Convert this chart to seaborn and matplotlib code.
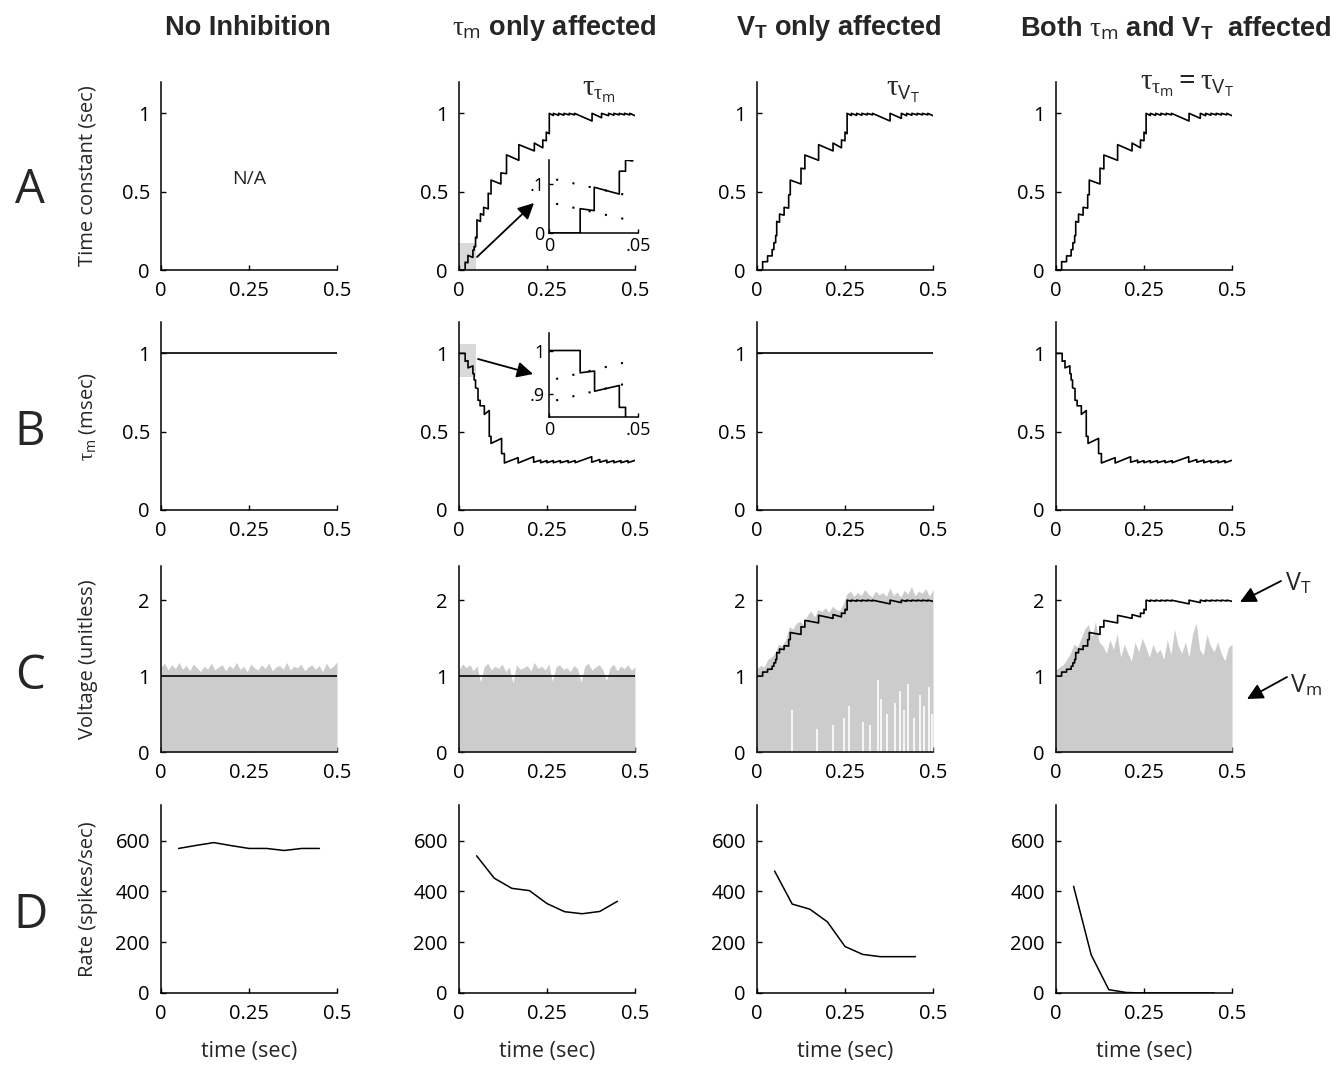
import numpy as np
import matplotlib
matplotlib.use("Agg")
import matplotlib.pyplot as plt
import seaborn as sns
import pandas as pd

# ------------------------------------------------------------------ data
# Row A, column 2: time constant of tau_m (jump times, value before / after jump)
ttm_t = [0.0175, 0.0254, 0.0395, 0.043, 0.047, 0.051, 0.061, 0.070, 0.083, 0.091,
         0.119, 0.135, 0.170, 0.214, 0.238, 0.248, 0.2565, 0.268, 0.283, 0.298,
         0.313, 0.328, 0.378, 0.405, 0.425, 0.44, 0.455, 0.47, 0.485]
ttm_before = [0.0, 0.046, 0.08, 0.127, 0.148, 0.205, 0.31, 0.35, 0.39, 0.485,
              0.549, 0.615, 0.70, 0.76, 0.78, 0.825, 0.87, 0.986, 0.987, 0.988,
              0.99, 0.99, 0.951, 0.972, 0.985, 0.988, 0.99, 0.99, 0.99]
ttm_after = [0.05, 0.094, 0.127, 0.15, 0.21, 0.32, 0.36, 0.40, 0.49, 0.574,
             0.62, 0.735, 0.80, 0.81, 0.83, 0.88, 1.0, 1.0, 1.0, 1.0,
             1.0, 1.0, 1.0, 1.0, 1.0, 1.0, 1.0, 1.0, 1.0]
ttm_end = 0.985

# Row A, columns 3-4: time constant of V_T
tvt_t = [0.016, 0.030, 0.043, 0.048, 0.053, 0.056, 0.064, 0.077, 0.090, 0.0945,
         0.125, 0.136, 0.175, 0.216, 0.240, 0.250, 0.256, 0.268, 0.283, 0.298,
         0.313, 0.328, 0.378, 0.41, 0.425, 0.44, 0.455, 0.47, 0.485]
tvt_before = [0.0, 0.053, 0.09, 0.13, 0.174, 0.22, 0.305, 0.35, 0.395, 0.48,
              0.549, 0.645, 0.70, 0.76, 0.78, 0.825, 0.87, 0.986, 0.987, 0.988,
              0.99, 0.99, 0.951, 0.968, 0.985, 0.988, 0.99, 0.99, 0.99]
tvt_after = [0.053, 0.09, 0.13, 0.174, 0.22, 0.31, 0.357, 0.40, 0.48, 0.574,
             0.65, 0.734, 0.80, 0.81, 0.83, 0.88, 1.0, 1.0, 1.0, 1.0,
             1.0, 1.0, 1.0, 1.0, 1.0, 1.0, 1.0, 1.0, 1.0]
tvt_end = 0.985

# Row B, columns 2 and 4: tau_m (msec)
tm_t = [0.0175, 0.0256, 0.0395, 0.043, 0.047, 0.054, 0.060, 0.072, 0.086, 0.091,
        0.121, 0.129, 0.168, 0.212, 0.232, 0.25, 0.268, 0.288, 0.31, 0.33,
        0.377, 0.40, 0.42, 0.44, 0.46, 0.48]
tm_before = [1.0, 0.953, 0.92, 0.87, 0.83, 0.775, 0.70, 0.665, 0.635, 0.47,
             0.457, 0.36, 0.334, 0.34, 0.318, 0.315, 0.315, 0.315, 0.315, 0.315,
             0.34, 0.322, 0.318, 0.315, 0.315, 0.315]
tm_after = [0.949, 0.907, 0.87, 0.83, 0.78, 0.70, 0.665, 0.61, 0.47, 0.425,
            0.36, 0.30, 0.30, 0.305, 0.302, 0.302, 0.302, 0.302, 0.302, 0.302,
            0.305, 0.305, 0.302, 0.302, 0.302, 0.302]
tm_end = 0.317

# Row C, columns 3-4: threshold V_T
vt_before = [1.0, 1.053, 1.09, 1.13, 1.174, 1.22, 1.305, 1.35, 1.395, 1.48,
             1.549, 1.645, 1.70, 1.76, 1.78, 1.825, 1.87, 1.986, 1.987, 1.988,
             1.99, 1.99, 1.951, 1.968, 1.985, 1.988, 1.99, 1.99, 1.99]
vt_after = [1.053, 1.09, 1.13, 1.174, 1.22, 1.31, 1.357, 1.40, 1.48, 1.574,
            1.65, 1.734, 1.80, 1.81, 1.83, 1.88, 2.0, 2.0, 2.0, 2.0,
            2.0, 2.0, 2.0, 2.0, 2.0, 2.0, 2.0, 2.0, 2.0]
vt_end = 1.985

# Row C: upper envelope of the membrane voltage V_m (grey)
vm_env_col1 = [1.12, 1.17, 1.08, 1.15, 1.10, 1.18, 1.09, 1.14, 1.07, 1.16,
               1.11, 1.06, 1.13, 1.09, 1.17, 1.08, 1.12, 1.15, 1.07, 1.14,
               1.10, 1.18, 1.09, 1.13, 1.06, 1.16, 1.11, 1.08, 1.15, 1.10,
               1.17, 1.07, 1.12, 1.14, 1.09, 1.18, 1.08, 1.13, 1.11, 1.16,
               1.07, 1.12, 1.15, 1.09, 1.14, 1.06, 1.17, 1.10, 1.13, 1.19]
vm_env_col2 = [1.09, 1.16, 1.11, 1.15, 1.07, 1.14, 0.92, 1.12, 1.17, 1.08,
               1.13, 1.10, 1.16, 1.06, 1.12, 0.91, 1.15, 1.09, 1.11, 1.14,
               1.07, 1.18, 1.10, 1.13, 1.08, 1.16, 0.93, 1.12, 1.15, 1.09,
               1.11, 1.06, 1.14, 1.10, 0.92, 1.13, 1.17, 1.08, 1.12, 1.15,
               1.09, 0.94, 1.11, 1.16, 1.07, 1.13, 1.10, 1.15, 1.08, 1.12]
vm_env_col3 = [1.10, 1.14, 1.12, 1.22, 1.25, 1.30, 1.42, 1.40, 1.48, 1.65,
               1.62, 1.70, 1.72, 1.68, 1.80, 1.86, 1.78, 1.88, 1.85, 1.90,
               1.84, 1.92, 1.88, 1.86, 1.95, 2.08, 2.12, 2.05, 2.10, 2.06,
               2.14, 2.08, 2.04, 2.12, 2.07, 2.10, 2.05, 2.16, 2.06, 2.11,
               2.04, 2.13, 2.08, 2.18, 2.06, 2.12, 2.09, 2.15, 2.05, 2.14]
vm_env_col4 = [1.08, 1.12, 1.15, 1.22, 1.30, 1.42, 1.38, 1.50, 1.62, 1.68,
               1.52, 1.72, 1.45, 1.40, 1.30, 1.48, 1.35, 1.56, 1.25, 1.42,
               1.30, 1.20, 1.45, 1.32, 1.50, 1.38, 1.25, 1.42, 1.30, 1.35,
               1.22, 1.48, 1.28, 1.62, 1.40, 1.30, 1.45, 1.25, 1.55, 1.70,
               1.35, 1.28, 1.55, 1.40, 1.32, 1.45, 1.30, 1.20, 1.38, 1.42]
# Row C, column 3: moments where V_m did not reset (white gaps from 0 up)
gap_t = [0.100, 0.170, 0.215, 0.248, 0.262, 0.300, 0.322, 0.345, 0.352, 0.368,
         0.392, 0.405, 0.418, 0.430, 0.447, 0.462, 0.475, 0.488, 0.497]
gap_h = [0.55, 0.30, 0.35, 0.45, 0.60, 0.40, 0.35, 0.95, 0.70, 0.50,
         0.65, 0.80, 0.55, 0.90, 0.45, 0.75, 0.60, 0.85, 0.50]

# Row D: firing rate (spikes/sec)
rate_t = [0.05, 0.10, 0.15, 0.20, 0.25, 0.30, 0.35, 0.40, 0.45]
rate_col1 = [569, 581, 592, 580, 569, 569, 561, 569, 569]
rate_col2 = [540, 452, 412, 403, 352, 320, 312, 321, 361]
rate_col3 = [480, 350, 330, 280, 183, 152, 143, 143, 143]
rate_col4 = [420, 150, 13, 2, 0, 0, 0, 0, 0]

col_titles = ["No Inhibition", r"$\tau_\mathrm{m}$ only affected",
              r"$\mathbf{V}_\mathbf{T}$ only affected",
              r"Both $\tau_\mathrm{m}$ and $\mathbf{V}_\mathbf{T}$  affected"]
row_letters = ["A", "B", "C", "D"]
row_ylabels = ["Time constant (sec)", r"$\tau_\mathrm{m}$ (msec)",
               "Voltage (unitless)", "Rate (spikes/sec)"]

# ------------------------------------------------------------------ style
sns.set_style("ticks")
plt.rcParams["font.family"] = ["Open Sans", "DejaVu Sans"]
plt.rcParams["mathtext.fontset"] = "custom"
plt.rcParams["mathtext.rm"] = "Open Sans"
plt.rcParams["mathtext.it"] = "Liberation Serif"
plt.rcParams["mathtext.bf"] = "Liberation Sans:bold"
plt.rcParams["axes.linewidth"] = 1.1
plt.rcParams["axes.edgecolor"] = "black"

W, H = 1344, 1068
fig = plt.figure(figsize=(W / 100, H / 100), dpi=100)

col_left = [161, 459, 757, 1056]
col_w = 176
rows_px = [(82, 270), (322, 510), (566, 752), (805, 993)]
GRAY = "#cccccc"
TICK_FS = 14.5


def px_axes(x0, ytop, w, ybot):
    return fig.add_axes([x0 / W, 1 - ybot / H, w / W, (ybot - ytop) / H])


def step_trace(start, ts, before, after, end):
    xs, ys = [0.0], [start]
    for t, b, a in zip(ts, before, after):
        xs += [t, t]
        ys += [b, a]
    xs.append(0.5)
    ys.append(end)
    return pd.DataFrame({"t": xs, "v": ys})


def kline(ax, df, lw=1.2, **kw):
    sns.lineplot(data=df, x="t", y="v", estimator=None, sort=False,
                 color="black", lw=lw, ax=ax, **kw)


def style_axes(ax, yticks, ylabels, ylim, fs=TICK_FS):
    ax.set_xlim(0, 0.5)
    ax.set_ylim(*ylim)
    ax.set_xticks([0, 0.25, 0.5])
    ax.set_xticklabels(["0", "0.25", "0.5"])
    ax.set_yticks(yticks)
    ax.set_yticklabels(ylabels)
    ax.tick_params(direction="in", length=3.5, width=1, pad=8, labelsize=fs,
                   colors="black")
    for s in ["top", "right"]:
        ax.spines[s].set_visible(False)


df_ttm = step_trace(0.0, ttm_t, ttm_before, ttm_after, ttm_end)
df_tvt = step_trace(0.0, tvt_t, tvt_before, tvt_after, tvt_end)
df_tm = step_trace(1.0, tm_t, tm_before, tm_after, tm_end)
df_vt = step_trace(1.0, tvt_t, vt_before, vt_after, vt_end)
df_flat = pd.DataFrame({"t": [0.0, 0.5], "v": [1.0, 1.0]})
env_t = np.linspace(0.0, 0.5, len(vm_env_col1))

axes = [[None] * 4 for _ in range(4)]
for r, (yt, yb) in enumerate(rows_px):
    for c in range(4):
        axes[r][c] = px_axes(col_left[c], yt, col_w, yb)

# ---- Row A
axes[0][0].text(0.25, 0.58, "N/A", ha="center", va="center", fontsize=14)
ax = axes[0][1]
ax.add_patch(plt.Rectangle((0, 0), 0.049, 0.175, color="#d9d9d9", lw=0, zorder=0))
kline(ax, df_ttm)
kline(axes[0][2], df_tvt)
kline(axes[0][3], df_tvt)
for c in range(4):
    style_axes(axes[0][c], [0, 0.5, 1], ["0", "0.5", "1"], (0, 1.2))

# ---- Row B
kline(axes[1][0], df_flat)
ax = axes[1][1]
ax.add_patch(plt.Rectangle((0, 0.851), 0.048, 0.206, color="#d9d9d9", lw=0, zorder=0))
kline(ax, df_tm)
kline(axes[1][2], df_flat)
kline(axes[1][3], df_tm)
for c in range(4):
    style_axes(axes[1][c], [0, 0.5, 1], ["0", "0.5", "1"], (0, 1.2))

# ---- Row C
envs = [vm_env_col1, vm_env_col2, vm_env_col3, vm_env_col4]
for c in range(4):
    axes[2][c].fill_between(env_t, 0, envs[c], color=GRAY, lw=0, zorder=1)
axes[2][2].vlines(gap_t, 0, gap_h, color="white", lw=1.2, zorder=2)
kline(axes[2][0], df_flat, zorder=3)
kline(axes[2][1], df_flat, zorder=3)
kline(axes[2][2], df_vt, zorder=3)
kline(axes[2][3], df_vt, zorder=3)
for c in range(4):
    style_axes(axes[2][c], [0, 1, 2], ["0", "1", "2"], (0, 2.45))

# ---- Row D
rates = [rate_col1, rate_col2, rate_col3, rate_col4]
for c in range(4):
    ax = axes[3][c]
    sns.lineplot(x=rate_t, y=rates[c], color="black", lw=1.1, ax=ax)
    style_axes(ax, [0, 200, 400, 600], ["0", "200", "400", "600"], (0, 740))
    cx = (col_left[c] + col_w / 2) / W
    fig.text(cx, 1 - 1052 / H, "time (sec)", ha="center", va="center", fontsize=15.5)

for r in range(4):
    for c in range(4):
        axes[r][c].set_xlabel("")
        axes[r][c].set_ylabel("")

# ---- insets
ins_a = px_axes(549, 160, 89, 233)
kline(ins_a, df_ttm)
ins_a.plot([0.004, 0.047], [0.11, 0.075], color="black", lw=1.5, ls=(0, (1, 7)))
ins_a.plot([0.004, 0.047], [0.06, 0.025], color="black", lw=1.5, ls=(0, (1, 7)))
ins_a.set_xlim(0, 0.05)
ins_a.set_ylim(0, 0.15)
ins_a.set_xticks([0, 0.05])
ins_a.set_xticklabels(["0", ".05"])
ins_a.set_yticks([0, 0.1])
ins_a.set_yticklabels(["0", ".1"])

ins_b = px_axes(549, 333, 89, 417)
kline(ins_b, df_tm)
ins_b.plot([0.004, 0.047], [0.935, 0.977], color="black", lw=1.5, ls=(0, (1, 7)))
ins_b.plot([0.004, 0.047], [0.886, 0.928], color="black", lw=1.5, ls=(0, (1, 7)))
ins_b.set_xlim(0, 0.05)
ins_b.set_ylim(0.848, 1.04)
ins_b.set_xticks([0, 0.05])
ins_b.set_xticklabels(["0", ".05"])
ins_b.set_yticks([0.9, 1.0])
ins_b.set_yticklabels([".9", "1"])
for ia in (ins_a, ins_b):
    ia.set_xlabel("")
    ia.set_ylabel("")
    ia.tick_params(direction="in", length=3, width=1, pad=3, labelsize=13, colors="black")
    for s in ["top", "right"]:
        ia.spines[s].set_visible(False)
    ia.patch.set_alpha(0)

arrow_kw = dict(arrowstyle="-|>", color="black", lw=1.3, mutation_scale=24,
                shrinkA=0, shrinkB=0)
fig.add_artist(matplotlib.patches.FancyArrowPatch((477, H - 257), (534, H - 203),
               transform=None, **arrow_kw))
fig.add_artist(matplotlib.patches.FancyArrowPatch((478, H - 359), (533, H - 374),
               transform=None, **arrow_kw))
fig.add_artist(matplotlib.patches.FancyArrowPatch((1281, H - 581), (1240, H - 602),
               transform=None, **arrow_kw))
fig.add_artist(matplotlib.patches.FancyArrowPatch((1287, H - 677), (1247, H - 699),
               transform=None, **arrow_kw))
fig.text(1285 / W, 1 - 584 / H, r"$\mathrm{V}_\mathrm{T}$", fontsize=18, ha="left", va="center")
fig.text(1290 / W, 1 - 686 / H, r"$\mathrm{V}_\mathrm{m}$", fontsize=18, ha="left", va="center")

# tau labels inside row A
fig.text(582 / W, 1 - 76 / H, r"$\tau_{\tau_\mathrm{m}}$", fontsize=21, ha="left", va="top")
fig.text(886 / W, 1 - 76 / H, r"$\tau_{\mathrm{V}_\mathrm{T}}$", fontsize=21, ha="left", va="top")
fig.text(1140 / W, 1 - 70 / H, r"$\tau_{\tau_\mathrm{m}} = \tau_{\mathrm{V}_\mathrm{T}}$",
         fontsize=21, ha="left", va="top")

# titles
title_cx = [248, 554, 839, 1176]
for c in range(4):
    fig.text(title_cx[c] / W, 1 - 28 / H, col_titles[c], ha="center", va="center",
             fontsize=19.5, fontweight="bold", family="Liberation Sans")

# row letters and y labels
for r, (yt, yb) in enumerate(rows_px):
    cy = 1 - (yt + yb) / 2 / H
    fig.text(30 / W, 1 - [190, 432, 676, 915][r] / H, row_letters[r], ha="center",
             va="center", fontsize=34)
    fig.text(88 / W, cy, row_ylabels[r], ha="center", va="center", rotation=90, fontsize=14.5)

fig.savefig("out.png", dpi=100)
